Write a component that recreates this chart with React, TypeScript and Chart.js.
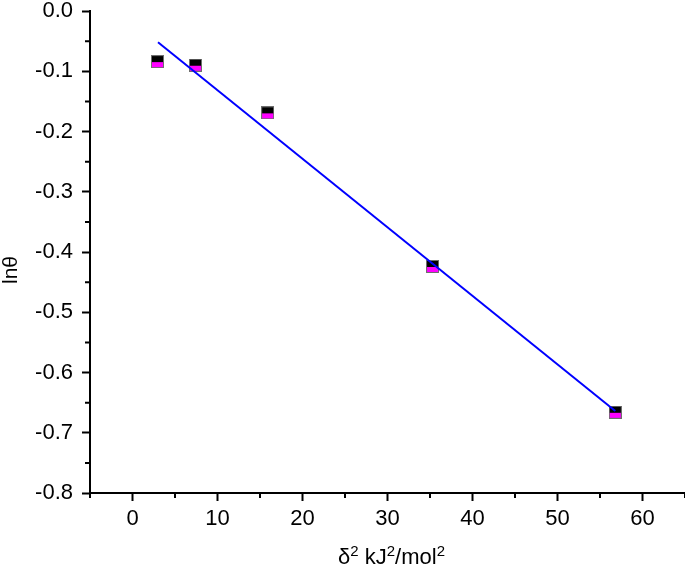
import React, { useEffect, useRef } from "react";
import { Chart, registerables } from "chart.js";

Chart.register(...registerables);

// Data
const pointX = [2.94, 7.41, 15.9, 35.3, 56.8];
const pointY = [-0.084, -0.09, -0.169, -0.424, -0.666];
const fitX = [3.0, 56.8];
const fitY = [-0.052, -0.664];

const xTicks = [0, 10, 20, 30, 40, 50, 60];
const xMinor = [-5, 5, 15, 25, 35, 45, 55, 65];
const yTicks = [0, -0.1, -0.2, -0.3, -0.4, -0.5, -0.6, -0.7, -0.8];
const yMinor = [-0.05, -0.15, -0.25, -0.35, -0.45, -0.55, -0.65, -0.75];

// axis titles as [text, isSuperscript] pieces
const xTitleParts: [string, boolean][] = [
  ["δ", false],
  ["2", true],
  [" kJ", false],
  ["2", true],
  ["/mol", false],
  ["2", true],
];
const yTitle = "lnθ";

const FAMILY = "'Liberation Sans', Arial, sans-serif";

function makeMarker(): HTMLCanvasElement {
  const c = document.createElement("canvas");
  c.width = 13;
  c.height = 13;
  const g = c.getContext("2d")!;
  g.fillStyle = "#6e6e6e";
  g.fillRect(0, 0, 13, 13);
  g.fillStyle = "#000000";
  g.fillRect(1, 1, 11, 11);
  g.fillStyle = "#ff00ff";
  g.fillRect(1, 7, 11, 5);
  return c;
}

const extras = {
  id: "extras",
  afterDraw(chart: any) {
    const ctx = chart.ctx;
    const xs = chart.scales.x;
    const ys = chart.scales.y;
    const area = chart.chartArea;
    ctx.save();
    // minor ticks
    ctx.strokeStyle = "#000";
    ctx.lineWidth = 2;
    ctx.beginPath();
    for (const v of xMinor) {
      const px = xs.getPixelForValue(v);
      ctx.moveTo(px, area.bottom);
      ctx.lineTo(px, area.bottom + 5);
    }
    for (const v of yMinor) {
      const py = ys.getPixelForValue(v);
      ctx.moveTo(area.left, py);
      ctx.lineTo(area.left - 5, py);
    }
    ctx.stroke();

    // x title with superscripts
    ctx.fillStyle = "#000";
    ctx.textBaseline = "alphabetic";
    ctx.textAlign = "left";
    const mainFont = `22px ${FAMILY}`;
    const supFont = `15px ${FAMILY}`;
    let total = 0;
    for (const [t, sup] of xTitleParts) {
      ctx.font = sup ? supFont : mainFont;
      total += ctx.measureText(t).width;
    }
    const cx = (area.left + area.right) / 2 + 4;
    let x = cx - total / 2;
    const baseY = area.bottom + 71;
    for (const [t, sup] of xTitleParts) {
      ctx.font = sup ? supFont : mainFont;
      ctx.fillText(t, x, sup ? baseY - 8 : baseY);
      x += ctx.measureText(t).width;
    }

    // y title rotated
    ctx.font = `21px ${FAMILY}`;
    ctx.translate(17, (area.top + area.bottom) / 2 + 18);
    ctx.rotate(-Math.PI / 2);
    ctx.textAlign = "center";
    ctx.fillText(yTitle, 0, 0);
    ctx.restore();
  },
};

export default function App() {
  const ref = useRef<HTMLCanvasElement>(null);

  useEffect(() => {
    const marker = makeMarker();
    const font = { family: FAMILY, size: 22 };
    const chart = new Chart(ref.current!, {
      type: "scatter",
      data: {
        datasets: [
          {
            type: "line",
            label: "fit",
            data: fitX.map((x, i) => ({ x, y: fitY[i] })),
            borderColor: "#0000ff",
            borderWidth: 2,
            pointRadius: 0,
            fill: false,
          },
          {
            label: "data",
            data: pointX.map((x, i) => ({ x, y: pointY[i] })),
            pointStyle: marker as any,
            pointRadius: 7,
          },
        ],
      },
      options: {
        responsive: false,
        animation: false,
        layout: { padding: { top: 11, right: 1, left: 0, bottom: 0 } },
        plugins: { legend: { display: false }, tooltip: { enabled: false } },
        scales: {
          x: {
            type: "linear",
            min: -5,
            max: 65,
            afterBuildTicks: (s: any) => {
              s.ticks = xTicks.map((v) => ({ value: v }));
            },
            afterFit: (s: any) => {
              s.height = 78;
              s.paddingLeft = 0;
              s.paddingRight = 0;
            },
            border: { display: true, color: "#000", width: 2 },
            grid: {
              display: true,
              drawOnChartArea: false,
              drawTicks: true,
              tickLength: 8,
              tickWidth: 2,
              tickColor: "#000",
            },
            ticks: {
              color: "#000",
              font,
              padding: 5,
              maxRotation: 0,
              callback: (v: any) => String(v),
            },
            title: { display: false },
          },
          y: {
            type: "linear",
            min: -0.8,
            max: 0,
            afterBuildTicks: (s: any) => {
              s.ticks = yTicks.map((v) => ({ value: v }));
            },
            afterFit: (s: any) => {
              s.width = 90;
              s.paddingTop = 0;
              s.paddingBottom = 0;
            },
            border: { display: true, color: "#000", width: 2 },
            grid: {
              display: true,
              drawOnChartArea: false,
              drawTicks: true,
              tickLength: 8,
              tickWidth: 2,
              tickColor: "#000",
            },
            ticks: {
              color: "#000",
              font,
              padding: 9,
              callback: (v: any) => Number(v).toFixed(1),
            },
            title: { display: false },
          },
        },
      },
      plugins: [extras],
    });
    return () => chart.destroy();
  }, []);

  return (
    <div
      style={{
        position: "absolute",
        left: 0,
        top: 0,
        width: 685,
        height: 571,
        overflow: "hidden",
        background: "#fff",
      }}
    >
      <canvas
        ref={ref}
        width={693}
        height={571}
        style={{ display: "block", width: 693, height: 571 }}
      />
    </div>
  );
}
